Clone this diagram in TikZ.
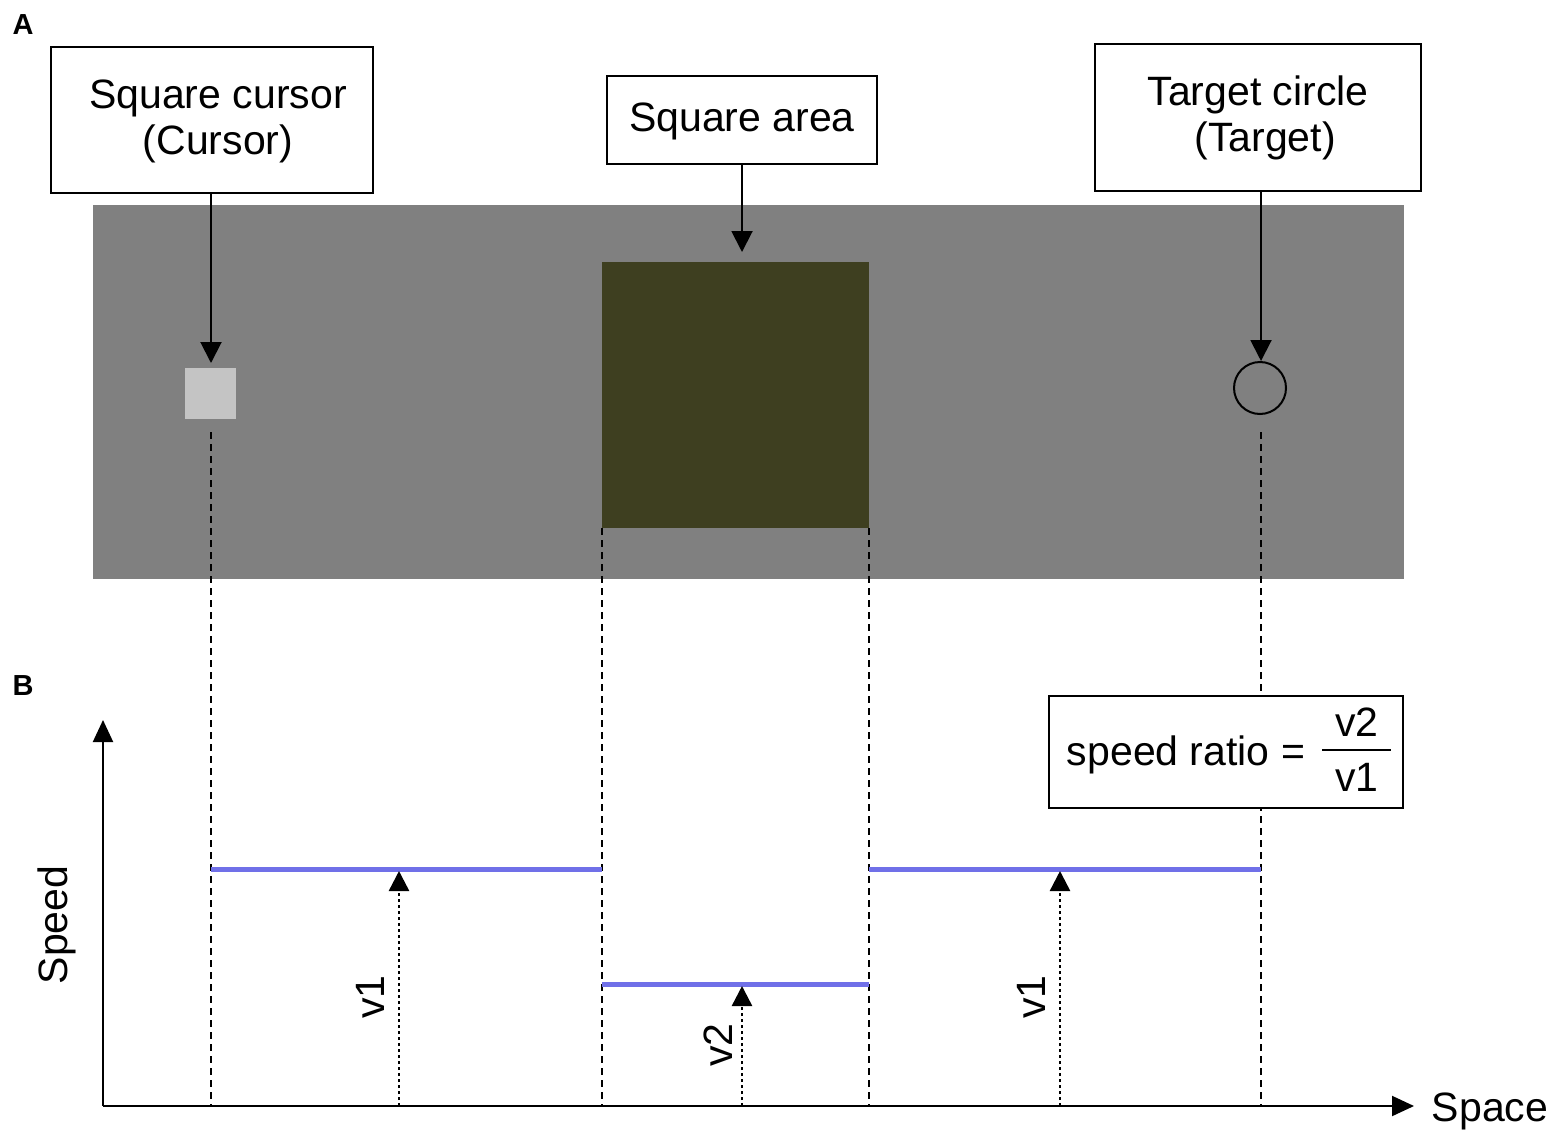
\documentclass[tikz,border=0pt]{standalone}
\usepackage{fontspec}
\setmainfont{Liberation Sans}
\usetikzlibrary{arrows.meta}
\definecolor{bggray}{RGB}{128,128,128}
\definecolor{cursorgray}{RGB}{196,196,196}
\definecolor{areaolive}{RGB}{62,63,32}
\definecolor{speedblue}{RGB}{112,112,232}
\tikzset{
  lbl/.style={font=\fontsize{41}{46}\selectfont, inner sep=0pt, align=center},
  panel/.style={font=\fontsize{29}{34}\selectfont\bfseries, inner sep=0pt},
  callout/.style={draw=black, line width=2pt, fill=white},
  pointer/.style={line width=2pt, -{Triangle[length=21pt,width=21pt]}},
  guide/.style={line width=2pt, dash pattern=on 7pt off 5pt},
  measure/.style={line width=2.5pt, dash pattern=on 3pt off 3pt, -{Triangle[length=20pt,width=20pt]}},
  axis/.style={line width=2pt, -{Triangle[length=22pt,width=20pt]}},
  level/.style={speedblue, line width=5pt},
}
\begin{document}
\begin{tikzpicture}[x=1pt,y=-1pt]
\useasboundingbox (0,0) rectangle (1562,1142);
% panel labels
\node[panel] (labA) at (23,25) {A};
\node[panel] (labB) at (23,686) {B};
% display
\fill[bggray] (93,205) rectangle (1404,579);
\fill[cursorgray] (185,368) rectangle (236,419);
\fill[areaolive] (602,262) rectangle (869,528);
\node[draw=black, line width=2pt, circle, minimum size=52pt, inner sep=0pt] (target) at (1260,388) {};
% callout boxes
\draw[callout] (51,47) rectangle (373,193);
\node[lbl] (tcur) at (218,121) {Square cursor\\(Cursor)};
\draw[callout] (607,76) rectangle (877,164);
\node[lbl] (tarea) at (742,121) {Square area};
\draw[callout] (1095,44) rectangle (1421,191);
\node[lbl] (ttgt) at (1258,118) {Target circle\\\hspace*{14pt}(Target)};
\coordinate (c1) at (211,193);
\coordinate (c1e) at (211,363);
\coordinate (c2) at (742,164);
\coordinate (c2e) at (742,252);
\coordinate (c3) at (1261,191);
\coordinate (c3e) at (1261,361);
\draw[pointer] (c1) -- (c1e);
\draw[pointer] (c2) -- (c2e);
\draw[pointer] (c3) -- (c3e);
% guides
\coordinate (g1t) at (211,432); \coordinate (g1b) at (211,1106);
\coordinate (g2t) at (602,528); \coordinate (g2b) at (602,1106);
\coordinate (g3t) at (869,528); \coordinate (g3b) at (869,1106);
\coordinate (g4t) at (1261,432); \coordinate (g4b) at (1261,1106);
\draw[guide] (g1t) -- (g1b);
\draw[guide] (g2t) -- (g2b);
\draw[guide] (g3t) -- (g3b);
\draw[guide] (g4t) -- (g4b);
% ratio box
\draw[callout] (1049,696) rectangle (1403,808);
\node[lbl] (ratio) at (1186,755) {speed ratio =};
\node[lbl] (num) at (1357,722) {v2};
\node[lbl] (den) at (1357,777) {v1};
\draw[line width=2pt] (1322,750) -- (1391,750);
% axes
\coordinate (o) at (103,1106);
\coordinate (ytop) at (103,720);
\coordinate (xend) at (1414,1106);
\draw[axis] (o) -- (ytop);
\draw[axis] (o) -- (xend);
\node[lbl] (space) at (1490,1111) {Space};
\node[lbl, rotate=90] (speed) at (57,925) {Speed};
% speed levels
\draw[level] (211,869) -- (602,869);
\draw[level] (602,984) -- (869,984);
\draw[level] (869,869) -- (1261,869);
% measures
\coordinate (m1b) at (399,1106); \coordinate (m1t) at (399,871);
\coordinate (m2b) at (742,1106); \coordinate (m2t) at (742,986);
\coordinate (m3b) at (1060,1106); \coordinate (m3t) at (1060,871);
\draw[measure] (m1b) -- (m1t);
\draw[measure] (m2b) -- (m2t);
\draw[measure] (m3b) -- (m3t);
\node[lbl, rotate=90] (v1a) at (370,997) {v1};
\node[lbl, rotate=90] (v2a) at (718,1045) {v2};
\node[lbl, rotate=90] (v1b) at (1031,997) {v1};
\end{tikzpicture}
\end{document}
